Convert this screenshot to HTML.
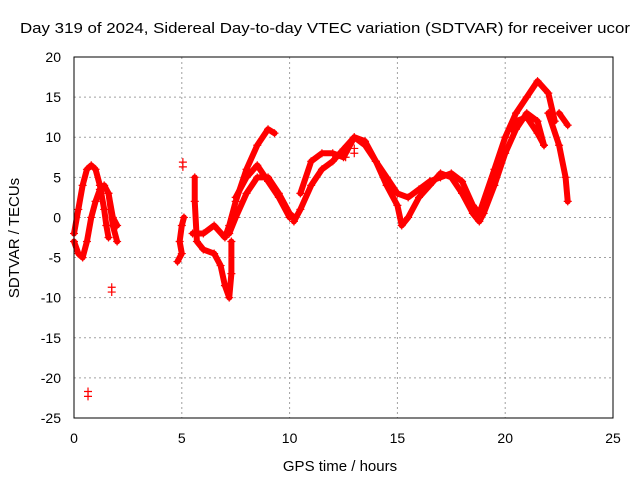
<!DOCTYPE html>
<html><head><meta charset="utf-8"><style>
body{margin:0;background:#fff;}
svg{display:block;font-family:"Liberation Sans",sans-serif;}
</style></head><body>
<svg id="chart" width="640" height="480" xmlns="http://www.w3.org/2000/svg">
<text x="20" y="33" font-size="15" textLength="610" lengthAdjust="spacingAndGlyphs">Day 319 of 2024, Sidereal Day-to-day VTEC variation (SDTVAR) for receiver ucor</text>
<text x="340" y="471" font-size="15" text-anchor="middle">GPS time / hours</text>
<text transform="translate(19,238) rotate(-90)" font-size="15" text-anchor="middle">SDTVAR / TECUs</text>
<g id="grid"></g><g id="ticks"></g><g id="marks"></g>
<rect x="74" y="57" width="539" height="361" fill="none" stroke="#000" stroke-width="1"/>
</svg>
<script>
const xTicks=[0,5,10,15,20,25];
const yTicks=[20,15,10,5,0,-5,-10,-15,-20,-25];
const seriesA=[[0,-3],[0.2,-4.5],[0.4,-5],[0.6,-3],[0.8,0],[1.0,2],[1.2,3.5],[1.4,4],[1.6,3],[1.8,0],[2.0,-1]];
const seriesB=[[0,-2],[0.2,1],[0.4,4],[0.6,6],[0.8,6.5],[1.0,6],[1.2,4],[1.4,1],[1.5,-1],[1.6,-2.5]];
const seriesC=[[1.6,3],[1.8,-1],[2.0,-3]];
const seriesD=[[4.8,-5.5],[5.0,-4.5],[4.9,-3],[5.0,-1],[5.1,0]];
const seriesE=[[5.6,5],[5.6,2],[5.7,-3],[6.0,-4],[6.5,-4.5],[6.8,-6],[7.0,-8.5],[7.2,-10],[7.3,-7],[7.3,-3]];
const seriesF=[[5.5,-2],[6.0,-2],[6.5,-1],[7.0,-2.5],[7.2,-1],[7.5,2],[8.0,6],[8.5,9],[9.0,11],[9.3,10.5]];
const seriesG=[[7.2,-2],[7.5,0],[8.0,3],[8.5,5],[9.0,5],[9.5,3],[10.0,0.5],[10.2,0]];
const seriesH=[[7.5,2.5],[8.0,5],[8.5,6.5],[9.0,4.5],[9.5,2.5],[10.0,0]];
const seriesI=[[10.2,-0.5],[10.5,1],[11,4],[11.5,6],[12,7],[12.5,8.5],[13,10],[13.5,9.5],[14,7],[14.5,4],[15,1.5],[15.2,-1],[15.5,0],[16,2.5],[16.5,4],[17,5.5],[17.5,5],[18,3],[18.5,0.5],[18.8,-0.5],[19,0.5],[19.5,4],[20,8],[20.5,11],[21,13],[21.5,12],[21.8,9]];
const seriesJ=[[10.5,3],[11,7],[11.5,8],[12,8],[12.5,7.5],[13,10],[13.5,9],[14,7],[14.5,5],[15,3],[15.5,2.5],[16,3.5],[16.5,4.5],[17,5],[17.5,5.5],[18,4.5],[18.5,1.5],[18.8,0.5],[19.5,6],[20,10],[20.5,13],[21,15],[21.5,17],[22,15.5],[22.3,12]];
const seriesK=[[20.3,11],[20.5,12],[21,12.5],[21.5,10.5],[21.8,9]];
const seriesL=[[22,13],[22.5,9],[22.8,5],[22.9,2]];
const seriesM=[[22.5,13],[22.9,11.5]];
const isolated=[[1.75,-9.3],[0.65,-22.3],[5.05,6.3],[12.6,7.5],[13,8]];
const allSeries=[seriesA,seriesB,seriesC,seriesD,seriesE,seriesF,seriesG,seriesH,seriesI,seriesJ,seriesK,seriesL,seriesM];
const NS="http://www.w3.org/2000/svg";
function sx(v){return 74+(v-0)/25*539;}
function sy(v){return 57+(20-v)/45*361;}
const grid=document.getElementById('grid'),ticks=document.getElementById('ticks'),marks=document.getElementById('marks');
function mk(tag,attrs,parent){const e=document.createElementNS(NS,tag);for(const k in attrs)e.setAttribute(k,attrs[k]);parent.appendChild(e);return e;}
xTicks.forEach(t=>{
 const l=mk('line',{x1:sx(t),x2:sx(t),y1:57,y2:418,stroke:'#a0a0a0','stroke-dasharray':'2,3'},grid);
 
 
 const tx=mk('text',{x:sx(t),y:443,'font-size':14,'text-anchor':'middle'},ticks);tx.textContent=t;
 
 
});
yTicks.forEach(t=>{
 const l=mk('line',{x1:74,x2:613,y1:sy(t),y2:sy(t),stroke:'#a0a0a0','stroke-dasharray':'2,3'},grid);
 
 
 const tx=mk('text',{x:61,y:sy(t)+5,'font-size':14,'text-anchor':'end'},ticks);tx.textContent=t;
 
 
});
function plus(x,y){
 const p=mk('path',{d:`M${sx(x)-4},${sy(y)}h8M${sx(x)},${sy(y)-4}v8`,stroke:'#f00','stroke-width':1.2},marks);
 
 
}
allSeries.forEach(s=>{
 const pl=mk('polyline',{points:s.map(p=>sx(p[0])+','+sy(p[1])).join(' '),fill:'none',stroke:'#f00','stroke-width':6,'stroke-linejoin':'round','stroke-linecap':'round'},marks);
 
 
 s.forEach(p=>plus(p[0],p[1]));
});
isolated.forEach(p=>{plus(p[0],p[1]);plus(p[0],p[1]+0.6);});
</script>
</body></html>
